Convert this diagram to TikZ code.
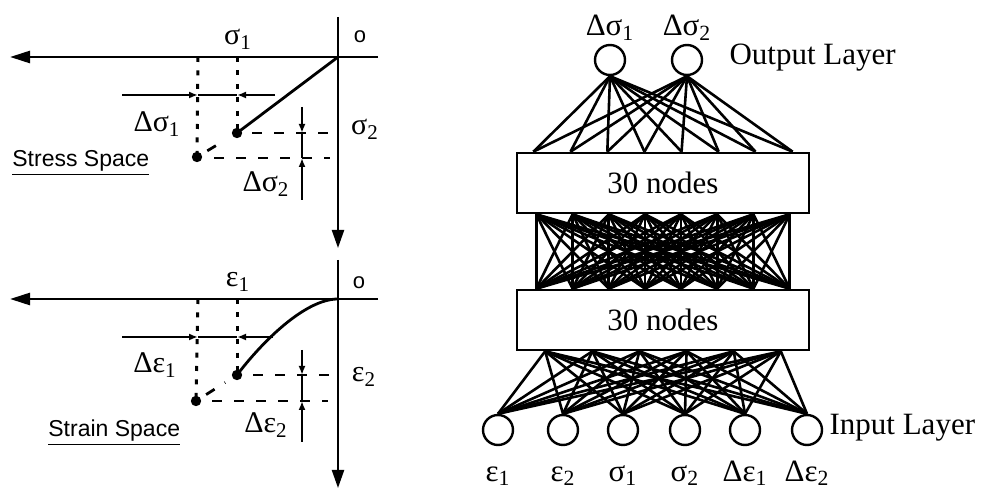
\documentclass[tikz,border=0pt]{standalone}
\usepackage{fontspec}
\setmainfont{Liberation Serif}
\setsansfont{Liberation Sans}
\usetikzlibrary{positioning, arrows.meta, calc}

\newcommand{\ix}[1]{\textsubscript{#1}}

\begin{document}
\begin{tikzpicture}[x=0.5pt, y=-0.5pt,
    axisl/.style={line width=1.3pt, -{Triangle[length=10pt, width=6pt]}},
    axisd/.style={line width=1.1pt, -{Triangle[length=9pt, width=6pt]}},
    solidl/.style={line width=1.4pt},
    dimarr/.style={line width=1.2pt, -{Latex[length=4.5pt, width=3.5pt]}},
    dotl/.style={line width=1.5pt, dash pattern=on 2.5pt off 4.2pt},
    dashl/.style={line width=1.4pt, dash pattern=on 5pt off 6pt},
    glbl/.style={font=\fontsize{15}{18}\selectfont, inner sep=0pt, anchor=base},
    olbl/.style={font=\sffamily\fontsize{11}{13}\selectfont, inner sep=0pt, anchor=base},
    splbl/.style={font=\sffamily\fontsize{11.5}{14}\selectfont, inner sep=0pt, anchor=base west},
    neuron/.style={draw, circle, line width=1.2pt, minimum size=15pt, inner sep=0pt},
    layer/.style={draw, line width=1.3pt, minimum width=146pt, minimum height=30pt,
                  inner sep=0pt, font=\fontsize{15.5}{18}\selectfont},
    lbl/.style={font=\fontsize{15.5}{18}\selectfont, inner sep=1pt,
                text height=1.6ex, text depth=0.6ex},
    wire/.style={line width=1.3pt},
]
\useasboundingbox (0,0) rectangle (991,491);

% ===== STRESS SPACE =====
\coordinate (so) at (338,57);
\coordinate (sa) at (237,133);
\coordinate (sb) at (197,157);
\draw[axisl] (378,57) -- (10,57);
\draw[axisd] (338,17) -- (338,248);
\draw[solidl] (so) -- (sa);
\draw[dotl] (198,57) -- (sb);
\draw[dotl] (237,57) -- (sa);
\draw[dashl] (252,133) -- (333,133);
\draw[dashl] (214,158) -- (330,158);
\draw[dashl, shorten <=6pt, shorten >=7pt] (sb) -- (sa);
\fill (sa) circle[radius=2.6pt];
\fill (sb) circle[radius=2.6pt];
% delta sigma_1
\draw[dimarr] (122,95) -- (198,95);
\draw[dimarr] (275,95) -- (237,95);
\draw[solidl] (198,95) -- (237,95);
% delta sigma_2
\draw[dimarr] (302,107) -- (302,133);
\draw[dimarr] (302,200) -- (302,158);
\draw[solidl] (302,133) -- (302,158);

\node[glbl] at (238,45) {σ\ix{1}};
\node[olbl] at (360,43) {o};
\node[glbl] at (157,132) {Δσ\ix{1}};
\node[glbl] at (365,135) {σ\ix{2}};
\node[glbl] at (266,192) {Δσ\ix{2}};
\node[splbl] at (12,167) {\underline{Stress Space}};

% ===== STRAIN SPACE =====
\coordinate (eo) at (338,299);
\coordinate (ea) at (237,375);
\coordinate (eb) at (196,401);
\draw[axisl] (378,299) -- (10,299);
\draw[axisd] (338,260) -- (338,488);
\draw[solidl] (eo) .. controls (305,299) and (262,342) .. (ea);
\draw[dotl] (198,299) -- (eb);
\draw[dotl] (237,299) -- (ea);
\draw[dashl] (253,375) -- (333,375);
\draw[dashl] (212,401) -- (328,401);
\draw[dashl, shorten <=6pt, shorten >=7pt] (eb) -- (ea);
\fill (ea) circle[radius=2.6pt];
\fill (eb) circle[radius=2.6pt];
% delta eps_1
\draw[dimarr] (122,337) -- (198,337);
\draw[dimarr] (273,337) -- (237,337);
\draw[solidl] (198,337) -- (237,337);
% delta eps_2
\draw[dimarr] (302,350) -- (302,375);
\draw[dimarr] (302,442) -- (302,401);
\draw[solidl] (302,375) -- (302,401);

\node[glbl] at (238,287) {ε\ix{1}};
\node[olbl] at (359,289) {o};
\node[glbl] at (155,373) {Δε\ix{1}};
\node[glbl] at (364,382) {ε\ix{2}};
\node[glbl] at (266,433) {Δε\ix{2}};
\node[splbl] at (48,437) {\underline{Strain Space}};

% ===== NETWORK =====
\node[neuron] (out1) at (610,60) {};
\node[neuron] (out2) at (687,60) {};
\node[lbl, above=0pt of out1] {Δσ\ix{1}};
\node[lbl, above=0pt of out2] {Δσ\ix{2}};
\node[lbl, right=12pt of out2] {Output Layer};

\node[layer] (hid1) at (663,183) {30 nodes};
\node[layer] (hid2) at (663,320) {30 nodes};

\foreach \n/\xx/\txt in {1/498/ε\ix{1}, 2/563/ε\ix{2}, 3/623/σ\ix{1},
                         4/685/σ\ix{2}, 5/745/Δε\ix{1}, 6/807/Δε\ix{2}} {
    \node[neuron] (in\n) at (\xx,430) {};
    \node[lbl, below=9pt of in\n] {\txt};
}
\node[lbl, right=2pt of in6] {Input Layer};

% output -> hidden 1
\foreach \o in {1,2}
    \foreach \fr in {0.06,0.186,0.311,0.437,0.563,0.689,0.814,0.94}
        \draw[wire] (out\o.south) -- ($(hid1.north west)!\fr!(hid1.north east)$);

% hidden 1 -> hidden 2
\foreach \fa in {0.07,0.193,0.316,0.439,0.561,0.684,0.807,0.93}
    \foreach \fb in {0.07,0.193,0.316,0.439,0.561,0.684,0.807,0.93}
        \draw[wire] ($(hid1.south west)!\fa!(hid1.south east)$)
            -- ($(hid2.north west)!\fb!(hid2.north east)$);

% input -> hidden 2
\foreach \n in {1,...,6}
    \foreach \fr in {0.1,0.26,0.42,0.58,0.74,0.9}
        \draw[wire] (in\n.north) -- ($(hid2.south west)!\fr!(hid2.south east)$);

\end{tikzpicture}
\end{document}
